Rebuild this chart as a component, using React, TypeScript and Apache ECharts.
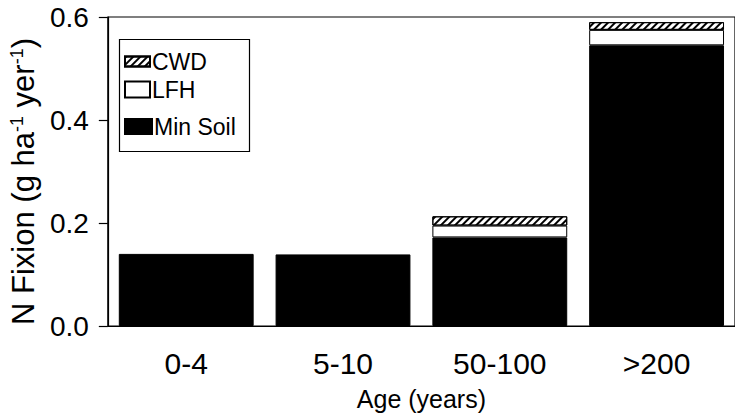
import React, { useEffect, useRef } from "react";
import * as echarts from "echarts";

// Stand age classes
const ageClasses = ["0-4", "5-10", "50-100", ">200"];

// N fixation by substrate (kg ha-1 yr-1), stacked bottom to top
const minSoil = [0.14, 0.139, 0.172, 0.545];
const lfh = [null, null, 0.023, 0.03];
const cwd = [null, null, 0.018, 0.015];

const yTicks = { min: 0, max: 0.6, interval: 0.2 };

const SANS = "'Liberation Sans', Arial, Helvetica, sans-serif";

const hatch = {
  symbol: "rect",
  symbolSize: 1,
  dashArrayX: [1, 0],
  dashArrayY: [1.5, 2.2],
  rotation: -Math.PI / 4,
  color: "#000",
};

export default function App() {
  const ref = useRef<HTMLDivElement>(null);

  useEffect(() => {
    if (!ref.current) return;
    const chart = echarts.init(ref.current, null, { renderer: "svg" });

    const legendText = {
      fontFamily: SANS,
      fontSize: 23,
      lineHeight: 20,
      color: "#000",
      padding: [0, 0, 0, -3],
    };

    chart.setOption({
      animation: false,
      backgroundColor: "#fff",
      grid: {
        left: 104,
        top: 17,
        width: 643,
        height: 317,
        show: true,
        borderColor: "#000",
        borderWidth: 1.2,
        backgroundColor: "transparent",
      },
      legend: [
        {
          data: ["CWD"],
          icon: "rect",
          left: 124,
          top: 50,
          itemWidth: 25,
          itemHeight: 10,
          padding: 0,
          textStyle: legendText,
        },
        {
          data: ["LFH"],
          icon: "rect",
          left: 124,
          top: 78,
          itemWidth: 25,
          itemHeight: 16,
          padding: 0,
          textStyle: legendText,
        },
        {
          data: ["Min Soil"],
          icon: "rect",
          left: 124,
          top: 115,
          itemWidth: 27,
          itemHeight: 15,
          padding: 0,
          textStyle: legendText,
        },
      ],
      graphic: [
        {
          type: "rect",
          left: 117,
          top: 37,
          shape: { width: 130, height: 112 },
          style: { fill: "none", stroke: "#000", lineWidth: 1.2 },
          z: 10,
        },
      ],
      xAxis: {
        type: "category",
        data: ageClasses,
        axisLine: { show: true, lineStyle: { color: "#000", width: 1.2 } },
        axisTick: { show: false },
        axisLabel: {
          margin: 22,
          fontFamily: SANS,
          fontSize: 30,
          color: "#000",
        },
        name: "Age (years)",
        nameLocation: "middle",
        nameGap: 60,
        nameTextStyle: { fontFamily: SANS, fontSize: 25, color: "#000" },
      },
      yAxis: {
        type: "value",
        min: yTicks.min,
        max: yTicks.max,
        interval: yTicks.interval,
        splitLine: { show: false },
        axisLine: { show: true, lineStyle: { color: "#000", width: 1.2 } },
        axisTick: { show: true, length: 9, lineStyle: { color: "#000", width: 1.2 } },
        axisLabel: {
          margin: 19,
          fontFamily: SANS,
          fontSize: 28,
          color: "#000",
          formatter: (v: number) => v.toFixed(1),
        },
        name: "N Fixion (g ha{sup|-1} yer{sup|-1})",
        nameLocation: "middle",
        nameRotate: 90,
        nameGap: 66,
        nameTextStyle: {
          fontFamily: SANS,
          fontSize: 31,
          color: "#000",
          padding: [0, 20, 0, 0],
          rich: {
            sup: { fontFamily: SANS, fontSize: 18, verticalAlign: "top", color: "#000", padding: [0, 0, 12, 0] },
          },
        },
      },
      series: [
        {
          name: "Min Soil",
          type: "bar",
          stack: "n",
          data: minSoil,
          barCategoryGap: "14%",
          itemStyle: { color: "#000", borderColor: "#000", borderWidth: 1 },
        },
        {
          name: "LFH",
          type: "bar",
          stack: "n",
          data: lfh,
          itemStyle: { color: "#fff", borderColor: "#000", borderWidth: 1 },
        },
        {
          name: "CWD",
          type: "bar",
          stack: "n",
          data: cwd,
          itemStyle: { color: "#fff", borderColor: "#000", borderWidth: 1, decal: hatch },
        },
      ],
    });

    return () => chart.dispose();
  }, []);

  return <div ref={ref} style={{ width: 735, height: 416, position: "absolute", left: 0, top: 0 }} />;
}
